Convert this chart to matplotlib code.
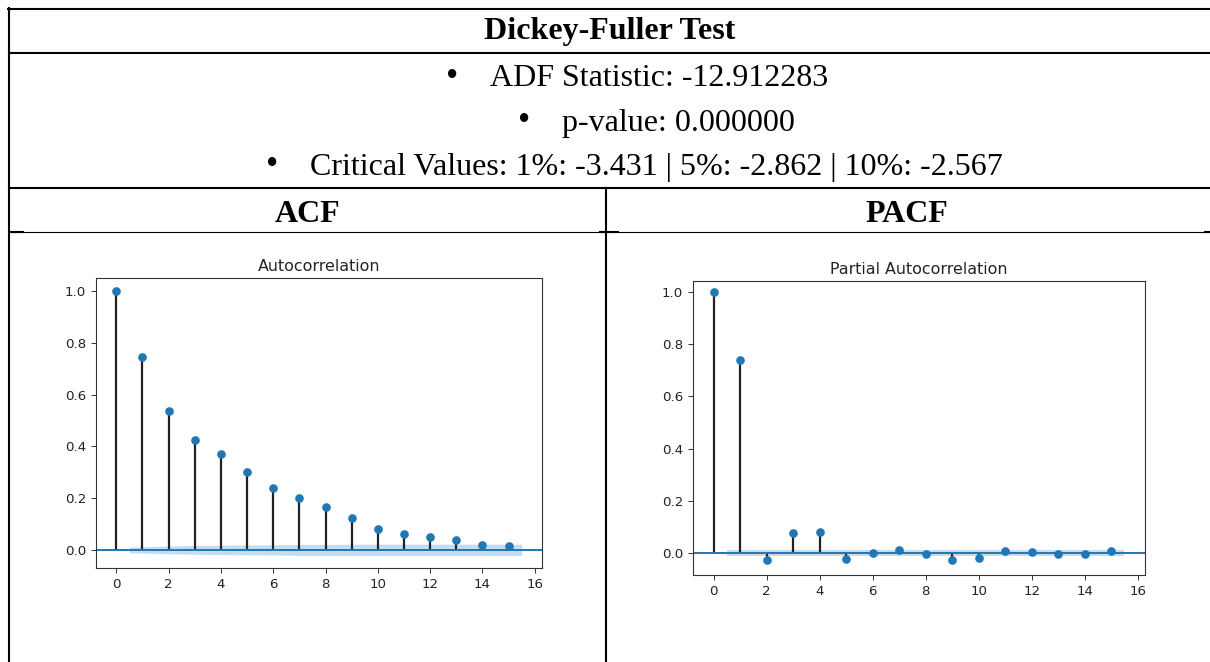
import matplotlib
matplotlib.use('Agg')
import matplotlib.pyplot as plt
import numpy as np

# ---- data ----
LAGS = list(range(16))
ACF_VALUES = [1.0, 0.745, 0.538, 0.425, 0.372, 0.303, 0.241, 0.200, 0.166,
              0.124, 0.081, 0.060, 0.050, 0.040, 0.019, 0.015]
PACF_VALUES = [1.0, 0.740, -0.027, 0.076, 0.081, -0.023, 0.000, 0.013, -0.005,
               -0.028, -0.017, 0.008, 0.003, -0.005, -0.005, 0.008]
# half-width of the 95% band for lags 1..15
ACF_BAND = [0.011, 0.015, 0.017, 0.018, 0.019, 0.020, 0.021, 0.021, 0.022,
            0.022, 0.022, 0.022, 0.022, 0.022, 0.022]
PACF_BAND = [0.012] * 15

TITLE = 'Dickey-Fuller Test'
BULLET_LINES = ['ADF Statistic: -12.912283',
                'p-value: 0.000000',
                'Critical Values: 1%: -3.431 | 5%: -2.862 | 10%: -2.567']
HEADERS = ['ACF', 'PACF']
PLOT_TITLES = ['Autocorrelation', 'Partial Autocorrelation']

W, H = 1210, 662
fig = plt.figure(figsize=(W / 100, H / 100), dpi=100)

# table drawn in pixel coordinates
tab = fig.add_axes([0, 0, 1, 1])
tab.set_xlim(0, W)
tab.set_ylim(H, 0)
tab.axis('off')

thick = 1.5
thin = 0.8
tab.plot([8, W], [9, 9], color='k', lw=thick)
tab.plot([9, 9], [8, H], color='k', lw=thick)
tab.plot([9, W], [52.5, 52.5], color='k', lw=thick)
tab.plot([9, W], [187.5, 187.5], color='k', lw=thick)
tab.plot([606, 606], [187.5, H], color='k', lw=thick)
tab.plot([9, W], [232, 232], color='k', lw=thin)
for x0, x1 in [(9, 23), (600, 618), (1205, W)]:
    tab.plot([x0, x1], [232, 232], color='k', lw=thick)

serif = 'Liberation Serif'
fs = 23
tab.text(610, 38.5, TITLE, ha='center', va='baseline', fontsize=fs,
         fontweight='bold', family=serif)
text_x = [490, 562, 310]
baselines = [86, 130.5, 174.5]
for line, tx, yb in zip(BULLET_LINES, text_x, baselines):
    tab.text(tx, yb, line, ha='left', va='baseline', fontsize=fs, family=serif)
    tab.text(tx - 38, yb, '\u2022', ha='center', va='baseline', fontsize=fs + 2,
             family=serif)
tab.text(307.5, 221.5, HEADERS[0], ha='center', va='baseline', fontsize=fs,
         fontweight='bold', family=serif)
tab.text(907, 221.5, HEADERS[1], ha='center', va='baseline', fontsize=fs,
         fontweight='bold', family=serif)


def corr_plot(rect, values, band, title, ylim):
    ax = fig.add_axes(rect)
    lags = np.array(LAGS, dtype=float)
    vals = np.array(values)
    ax.vlines(lags, 0, vals, colors='#222222', lw=1.6, zorder=2)
    ax.plot(lags, vals, 'o', color='#1f77b4', markersize=5.2, zorder=3)
    ax.axhline(0, color='#1f77b4', lw=1.4, zorder=2)
    bx = lags[1:].copy()
    bx[0] -= 0.5
    bx[-1] += 0.5
    b = np.array(band)
    ax.fill_between(bx, -b, b, color='#1f77b4', alpha=0.25, lw=0, zorder=1)
    ax.set_xlim(-0.775, 16.275)
    ax.set_ylim(*ylim)
    ax.set_xticks(np.arange(0, 17, 2))
    ax.set_yticks(np.arange(0, 1.01, 0.2))
    ax.yaxis.set_major_formatter(matplotlib.ticker.FormatStrFormatter('%.1f'))
    ax.tick_params(labelsize=9.6, length=3.5, width=0.7, pad=3.5,
                   colors='#333333', labelcolor='#222222')
    for s in ax.spines.values():
        s.set_linewidth(0.8)
        s.set_color('#333333')
    ax.set_title(title, fontsize=11.4, pad=5.0, color='#222222')
    return ax


corr_plot([96 / W, (H - 568) / H, 446 / W, 290 / H], ACF_VALUES, ACF_BAND,
          PLOT_TITLES[0], (-0.07, 1.051))
corr_plot([693 / W, (H - 575) / H, 452 / W, 294 / H], PACF_VALUES, PACF_BAND,
          PLOT_TITLES[1], (-0.084, 1.042))

fig.savefig('out.png', dpi=100)
